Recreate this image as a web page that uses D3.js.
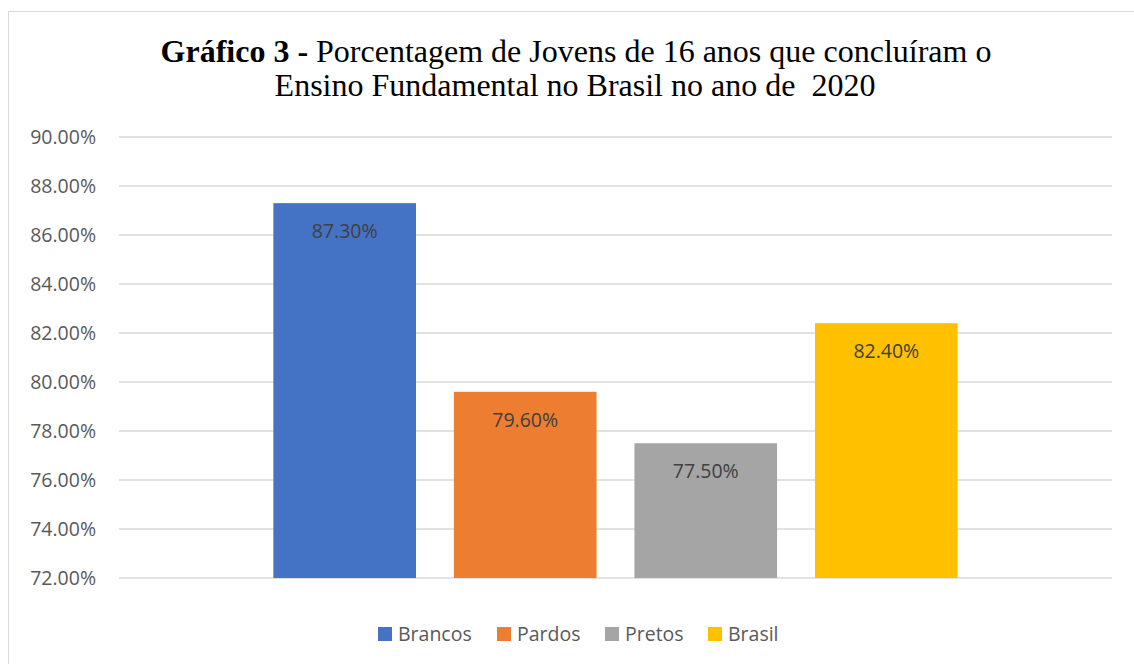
<!DOCTYPE html>
<html>
<head>
<meta charset="utf-8">
<script src="https://cdn.jsdelivr.net/npm/d3@7"></script>
<style>
  body { margin: 0; background: #fff; }
</style>
</head>
<body>
<div id="chart"></div>
<script>
const categories = ["Brancos", "Pardos", "Pretos", "Brasil"];
const values = [87.3, 79.6, 77.5, 82.4];
const colors = ["#4472C4", "#ED7D31", "#A5A5A5", "#FFC000"];
const yTicks = [72, 74, 76, 78, 80, 82, 84, 86, 88, 90];

const W = 1134, H = 664;
const margin = { top: 137, right: 22, bottom: 86, left: 119 };
const width = W - margin.left - margin.right;
const height = H - margin.top - margin.bottom;

const svg = d3.select("#chart").append("svg")
    .attr("width", W)
    .attr("height", H);

// chart frame
svg.append("rect")
    .attr("x", 8.5).attr("y", 11.5)
    .attr("width", W + 20).attr("height", H + 20)
    .attr("fill", "#fff")
    .attr("stroke", "#d9d9d9");

// title
const title = svg.append("text")
    .attr("text-anchor", "middle")
    .style("font-family", "'Liberation Serif', 'Times New Roman', serif")
    .style("font-size", "32px")
    .attr("fill", "#000");
const t1 = title.append("tspan").attr("x", 576).attr("y", 62);
t1.append("tspan").style("font-weight", "bold").text("Gráfico 3 - ");
t1.append("tspan").text("Porcentagem de Jovens de 16 anos que concluíram o");
title.append("tspan").attr("x", 575).attr("y", 96)
    .text("Ensino Fundamental no Brasil no ano de\u00a0 2020");

const g = svg.append("g")
    .attr("transform", "translate(" + margin.left + "," + margin.top + ")");

const y = d3.scaleLinear()
    .domain([72, 90])
    .range([height, 0]);

const x = d3.scaleBand()
    .domain(categories)
    .range([0, width])
    .paddingInner(0.21)
    .paddingOuter(0.855);

// gridlines
g.append("g")
    .selectAll("line")
    .data(yTicks)
    .enter().append("line")
    .attr("x1", 0).attr("x2", width)
    .attr("y1", d => y(d)).attr("y2", d => y(d))
    .attr("stroke", "#d9d9d9")
    .attr("stroke-width", 1.5);

// y axis labels
const yAxis = g.append("g")
    .attr("class", "y axis")
    .call(d3.axisLeft(y).tickValues(yTicks).tickSize(0).tickPadding(23)
        .tickFormat(d => d3.format(".2f")(d) + "%"));
yAxis.select(".domain").remove();
yAxis.selectAll("text")
    .style("font-family", "'Open Sans', 'Noto Sans', sans-serif")
    .style("font-size", "19.5px")
    .attr("fill", "#595959");

// bars
g.selectAll(".bar")
    .data(values)
    .enter().append("rect")
    .attr("class", "bar")
    .attr("x", (d, i) => x(categories[i]))
    .attr("width", x.bandwidth())
    .attr("y", d => y(d))
    .attr("height", d => height - y(d))
    .style("fill", (d, i) => colors[i]);

// data labels
g.selectAll(".label")
    .data(values)
    .enter().append("text")
    .attr("class", "label")
    .attr("x", (d, i) => x(categories[i]) + x.bandwidth() / 2)
    .attr("y", d => y(d) + 35)
    .attr("text-anchor", "middle")
    .style("font-family", "'Open Sans', 'Noto Sans', sans-serif")
    .style("font-size", "19.5px")
    .attr("fill", "#404040")
    .text(d => d3.format(".2f")(d) + "%");

// legend
const legendX = [378, 497, 605, 708];
const legend = svg.append("g");
const items = legend.selectAll("g")
    .data(categories)
    .enter().append("g")
    .attr("transform", (d, i) => "translate(" + legendX[i] + ",627)");
items.append("rect")
    .attr("width", 14).attr("height", 14)
    .attr("fill", (d, i) => colors[i]);
items.append("text")
    .attr("x", 20).attr("y", 14)
    .style("font-family", "'Open Sans', 'Noto Sans', sans-serif")
    .style("font-size", "19.5px")
    .attr("fill", "#595959")
    .text(d => d);
</script>
</body>
</html>
